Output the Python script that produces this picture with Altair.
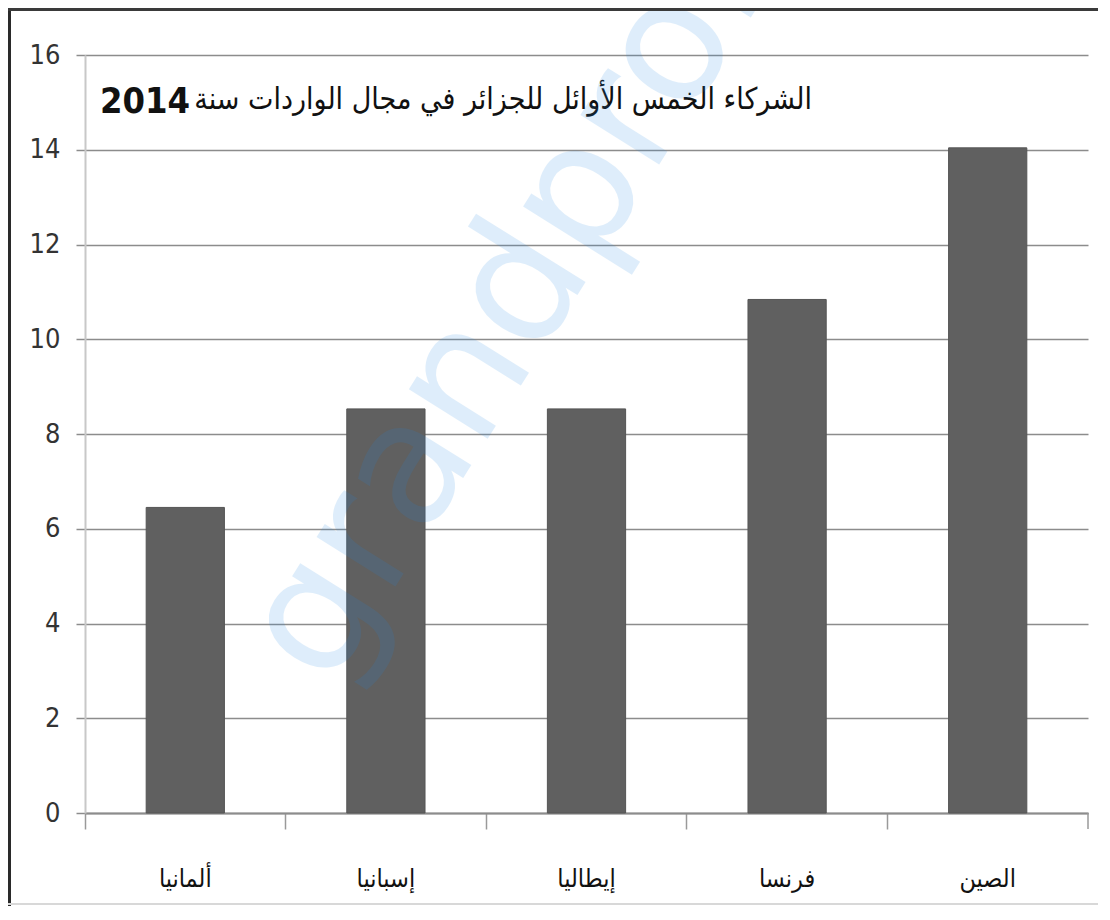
import altair as alt
import pandas as pd

# ---- data ----
countries = ["ألمانيا", "إسبانيا", "إيطاليا", "فرنسا", "الصين"]
values = [6.45, 8.53, 8.53, 10.84, 14.04]
y_ticks = [0, 2, 4, 6, 8, 10, 12, 14, 16]
title_ar = "الشركاء الخمس الأوائل للجزائر في مجال الواردات سنة"
title_year = "2014"
watermark = "grandprof"

df = pd.DataFrame({"country": countries, "value": values})
one = pd.DataFrame({"a": [0]})

W, H = 1003, 758
NARROW = "Liberation Sans Narrow, DejaVu Sans Condensed, Liberation Sans, Arial"
ARAB = "DejaVu Sans Condensed, DejaVu Sans, Noto Sans, sans-serif"

x = alt.X(
    "country:N",
    sort=countries,
    scale=alt.Scale(paddingInner=0, paddingOuter=0),
    axis=alt.Axis(
        title=None, bandPosition=0, labelAngle=0,
        tickSize=16, tickColor="#9a9a9a", tickWidth=1.5,
        domainColor="#8c8c8c", domainWidth=2,
        labelFont=ARAB, labelFontSize=25, labelColor="#111111",
        labelPadding=37, grid=False,
    ),
)
y = alt.Y(
    "value:Q",
    scale=alt.Scale(domain=[0, 16], nice=False),
    axis=alt.Axis(
        values=y_ticks, title=None, grid=True, gridColor="#8c8c8c", gridWidth=1.5,
        tickSize=9, tickColor="#8c8c8c", tickWidth=1.5,
        domainColor="#c8c8c8", domainWidth=2,
        labelFont=NARROW, labelFontSize=27, labelColor="#333333", labelPadding=16,
    ),
)

bars = alt.Chart(df).mark_bar(
    width=alt.RelativeBandSize(0.39), color="#606060", stroke="#555555", strokeWidth=1
).encode(x=x, y=y)

end_tick = alt.Chart(one).mark_rule(color="#9a9a9a", strokeWidth=1.5).encode(
    x=alt.value(W), y=alt.value(H), y2=alt.value(H + 16)
)

frame_left = alt.Chart(one).mark_rule(color="#2a2a2a", strokeWidth=3).encode(
    x=alt.value(-75.5), y=alt.value(-47), y2=alt.value(H + 93)
)
frame_top = alt.Chart(one).mark_rule(color="#3a3a3a", strokeWidth=3).encode(
    x=alt.value(-77), x2=alt.value(W + 10), y=alt.value(-45.5)
)
frame_bottom = alt.Chart(one).mark_rule(color="#d8d8d8", strokeWidth=2).encode(
    x=alt.value(-77), x2=alt.value(W + 10), y=alt.value(H + 91)
)

title_a = alt.Chart(pd.DataFrame({"t": [title_ar]})).mark_text(
    align="right", baseline="middle", font=ARAB, fontSize=30, color="#111111"
).encode(text="t:N", x=alt.value(727), y=alt.value(45))

title_b = alt.Chart(pd.DataFrame({"t": [title_year]})).mark_text(
    align="left", baseline="middle", font=NARROW, fontSize=36, fontWeight="bold", color="#111111"
).encode(text="t:N", x=alt.value(15), y=alt.value(47))

wm = alt.Chart(pd.DataFrame({"t": [watermark]})).mark_text(
    align="left", baseline="alphabetic", font="DejaVu Sans", fontSize=170,
    angle=302, color="#1e88e5", opacity=0.14
).encode(text="t:N", x=alt.value(245), y=alt.value(636))

chart = alt.layer(
    bars, end_tick, title_a, title_b, wm, frame_left, frame_top, frame_bottom
).properties(
    width=W, height=H,
    padding={"left": 77, "top": 47, "right": 10, "bottom": 93},
    autosize=alt.AutoSizeParams(type="none"),
    background="white",
).configure_view(stroke=None)

chart.save("out.html", embed_options={"renderer": "svg", "actions": False})
